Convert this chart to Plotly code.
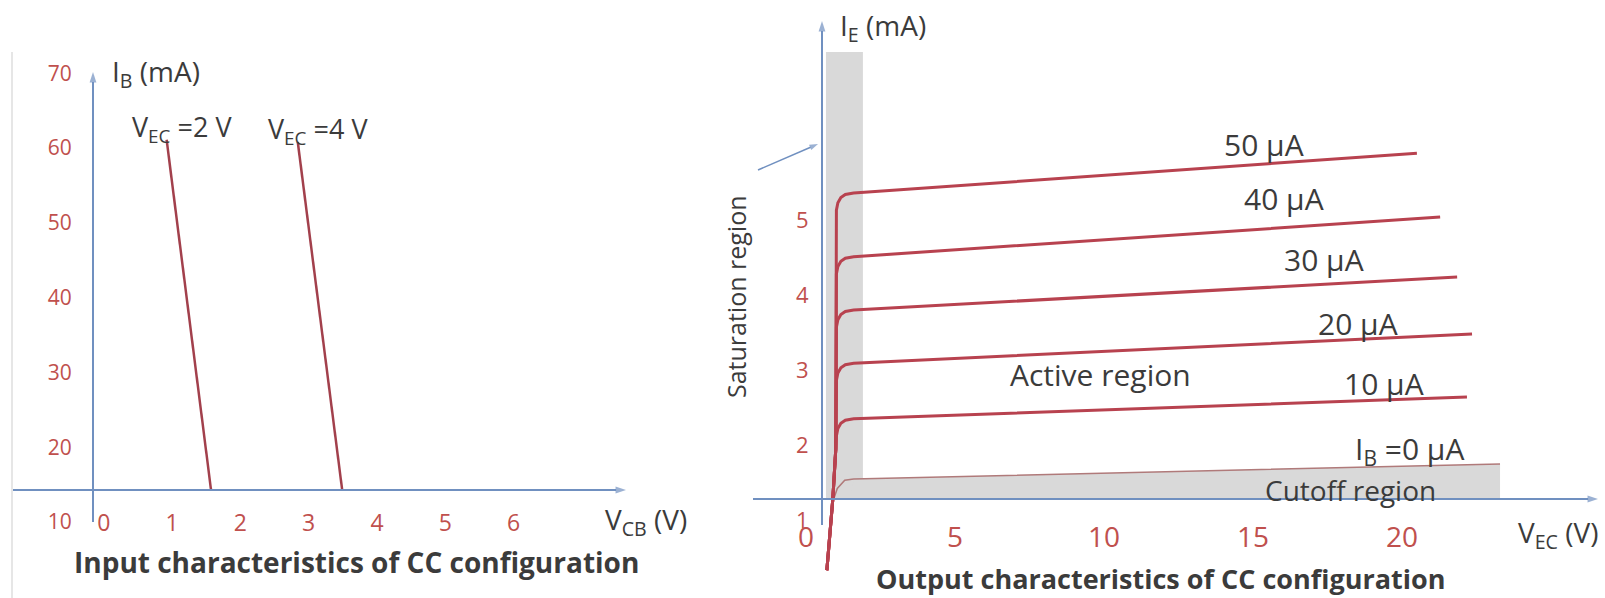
import plotly.graph_objects as go

W, H = 1605, 598
FONT = "'Open Sans', Lato, sans-serif"
TXT = "#3b3b3b"
TICK = "#c0504d"
AXC = "#7090c0"
CURVE = "#b8424f"
GRAY = "#d9d9d9"

# ---------------- data: input characteristics ----------------
vcb_ticks = [0, 1, 2, 3, 4, 5, 6]
ib_ticks = [10, 20, 30, 40, 50, 60, 70]
vec2_vcb = [0.92, 1.57]
vec2_ib = [61.1, 14.3]
vec4_vcb = [2.84, 3.49]
vec4_ib = [60.8, 14.3]

# ---------------- data: output characteristics ----------------
vec_ticks = [0, 5, 10, 15, 20]
ie_ticks = [1, 2, 3, 4, 5]
ib50_v = [0.70, 0.90, 1.00, 1.02, 1.07, 1.17, 1.32, 1.6, 20.50]
ib50_i = [0.33, 1.28, 1.95, 5.13, 5.23, 5.30, 5.34, 5.36, 5.89]
ib40_v = [0.70, 0.90, 1.00, 1.02, 1.07, 1.17, 1.32, 1.6, 21.28]
ib40_i = [0.33, 1.28, 1.95, 4.28, 4.38, 4.45, 4.49, 4.51, 5.04]
ib30_v = [0.70, 0.90, 1.00, 1.02, 1.07, 1.17, 1.32, 1.6, 21.85]
ib30_i = [0.33, 1.28, 1.95, 3.57, 3.67, 3.74, 3.78, 3.80, 4.24]
ib20_v = [0.70, 0.90, 1.00, 1.02, 1.07, 1.17, 1.32, 1.6, 22.35]
ib20_i = [0.33, 1.28, 1.95, 2.86, 2.96, 3.03, 3.07, 3.09, 3.48]
ib10_v = [0.70, 0.90, 1.00, 1.02, 1.07, 1.17, 1.32, 1.6, 22.18]
ib10_i = [0.33, 1.28, 1.95, 2.12, 2.22, 2.29, 2.33, 2.35, 2.64]
ib0_v = [0.93, 1.05, 1.30, 1.60, 23.29]
ib0_i = [1.28, 1.42, 1.53, 1.547, 1.747]
sat_v = [0.67, 1.91, 1.91, 0.67]
sat_i = [1.28, 1.28, 7.24, 7.24]
cut_v = [1.50, 23.29, 23.29, 1.60]
cut_i = [1.28, 1.28, 1.747, 1.547]
curve_labels = ["50 µA", "40 µA", "30 µA", "20 µA", "10 µA", "I<sub>B</sub> =0 µA"]

# ---------------- layout calibration (pixel anchors) ----------------
U0, KU = 103.8, 68.3      # left: V_CB -> px
V10, KV = 522.0, 7.48     # left: I_B -> px
X0, KX = 806.0, 29.8      # right: V_EC -> px
Y5, KY = 220.0, 75.0      # right: I_E -> px

def fx(px):
    return px / W

def fy(py):
    return 1 - py / H

def lu(px):
    return (px - U0) / KU

def lv(py):
    return 10 + (V10 - py) / KV

def rv(px):
    return (px - X0) / KX

def ri(py):
    return 5 + (Y5 - py) / KY

fig = go.Figure()

# left curves
for xs, ys in [(vec2_vcb, vec2_ib), (vec4_vcb, vec4_ib)]:
    fig.add_trace(go.Scatter(x=xs, y=ys, mode="lines", xaxis="x", yaxis="y",
                             line=dict(color="#a2404c", width=2.5), hoverinfo="skip"))

# right: gray regions
for xs, ys in [(sat_v, sat_i), (cut_v, cut_i)]:
    fig.add_trace(go.Scatter(x=xs, y=ys, mode="lines", fill="toself", fillcolor=GRAY,
                             line=dict(width=0, color=GRAY), xaxis="x2", yaxis="y2",
                             hoverinfo="skip"))

fig.add_trace(go.Scatter(x=ib0_v, y=ib0_i, mode="lines", xaxis="x2", yaxis="y2",
                         line=dict(color="#b07a7a", width=1.5), hoverinfo="skip"))
for xs, ys in [(ib10_v, ib10_i), (ib20_v, ib20_i), (ib30_v, ib30_i),
               (ib40_v, ib40_i), (ib50_v, ib50_i)]:
    fig.add_trace(go.Scatter(x=xs, y=ys, mode="lines", xaxis="x2", yaxis="y2",
                             line=dict(color=CURVE, width=3), hoverinfo="skip"))


def arrow(xa, ya, x0, y0, x1, y1, width=2, size=11):
    fig.add_trace(go.Scatter(x=[x0, x1], y=[y0, y1], mode="lines+markers", xaxis=xa, yaxis=ya,
                             line=dict(color=AXC, width=width),
                             marker=dict(symbol=["circle", "arrow"], size=[0, size], color=AXC,
                                         angleref="previous", line=dict(width=0)),
                             hoverinfo="skip"))

# axes lines with arrow heads
arrow("x", "y", lu(93), lv(522), lu(93), lv(72))
arrow("x", "y", lu(13), lv(490), lu(626), lv(490))
arrow("x2", "y2", rv(822), ri(525), rv(822), ri(21))
arrow("x2", "y2", rv(753), ri(499), rv(1598), ri(499))
arrow("x2", "y2", rv(758), ri(170), rv(818), ri(144), width=1.5, size=9)

common = dict(showgrid=False, zeroline=False, showline=False, ticks="outside",
              tickcolor="rgba(0,0,0,0)", fixedrange=True)
fig.update_layout(
    width=W, height=H, margin=dict(l=0, r=0, t=0, b=0),
    paper_bgcolor="white", plot_bgcolor="rgba(0,0,0,0)", showlegend=False,
    font=dict(family=FONT, color=TXT),
    xaxis=dict(domain=[fx(13), fx(632)], range=[lu(13), lu(632)], anchor="free",
               position=fy(490), tickvals=vcb_ticks, ticklen=12,
               tickfont=dict(size=23, color=TICK, family=FONT), **common),
    yaxis=dict(domain=[fy(540), fy(53)], range=[lv(540), lv(53)], anchor="free",
               position=fx(93), tickvals=ib_ticks, ticklen=17,
               tickfont=dict(size=21, color=TICK, family=FONT), **common),
    xaxis2=dict(domain=[fx(753), fx(1600)], range=[rv(753), rv(1600)], anchor="free",
                position=fy(499), tickvals=vec_ticks, ticklen=13,
                tickfont=dict(size=28, color=TICK, family=FONT), **common),
    yaxis2=dict(domain=[fy(590), fy(10)], range=[ri(590), ri(10)], anchor="free",
                position=fx(822), tickvals=ie_ticks, ticklen=9,
                tickfont=dict(size=22, color=TICK, family=FONT), **common),
)

ann = []

def text(t, px, py, size=24, xanchor="center", angle=0, color=TXT):
    ann.append(dict(x=fx(px), y=fy(py), xref="paper", yref="paper", text=t,
                    showarrow=False, xanchor=xanchor, yanchor="middle", textangle=angle,
                    font=dict(size=size, family=FONT, color=color)))

# left texts
text("I<sub>B</sub> (mA)", 110, 73, 28, xanchor="left")
text("V<sub>EC</sub> =2 V", 182, 129, 27)
text("V<sub>EC</sub> =4 V", 318, 131, 27)
text("V<sub>CB</sub> (V)", 646, 521, 28)
text("<b>Input characteristics of CC configuration</b>", 72, 562, 28, xanchor="left")

# right texts
text("I<sub>E</sub> (mA)", 838, 27, 28, xanchor="left")
text("Saturation region", 736, 297, 25, angle=-90)
text("Active region", 1100, 374, 30)
label_pos = [(1264, 145), (1284, 198), (1324, 260), (1358, 323), (1384, 383), (1409, 450)]
for lab, (px, py) in zip(curve_labels, label_pos):
    text(lab, px, py, 30)
text("Cutoff region", 1350, 490, 28)
text("V<sub>EC</sub> (V)", 1558, 534, 28)
text("<b>Output characteristics of CC configuration</b>", 1160, 578, 27)

fig.update_layout(annotations=ann)

# faint left border
fig.add_shape(type="line", xref="paper", yref="paper", x0=fx(12), x1=fx(12), y0=fy(598), y1=fy(52),
              line=dict(color="#e6e6e6", width=2))

fig.write_html("out.html", config={"displayModeBar": False},
               post_script="document.body.style.margin='0';document.body.style.padding='0';"
                           "document.body.style.overflow='hidden';")
